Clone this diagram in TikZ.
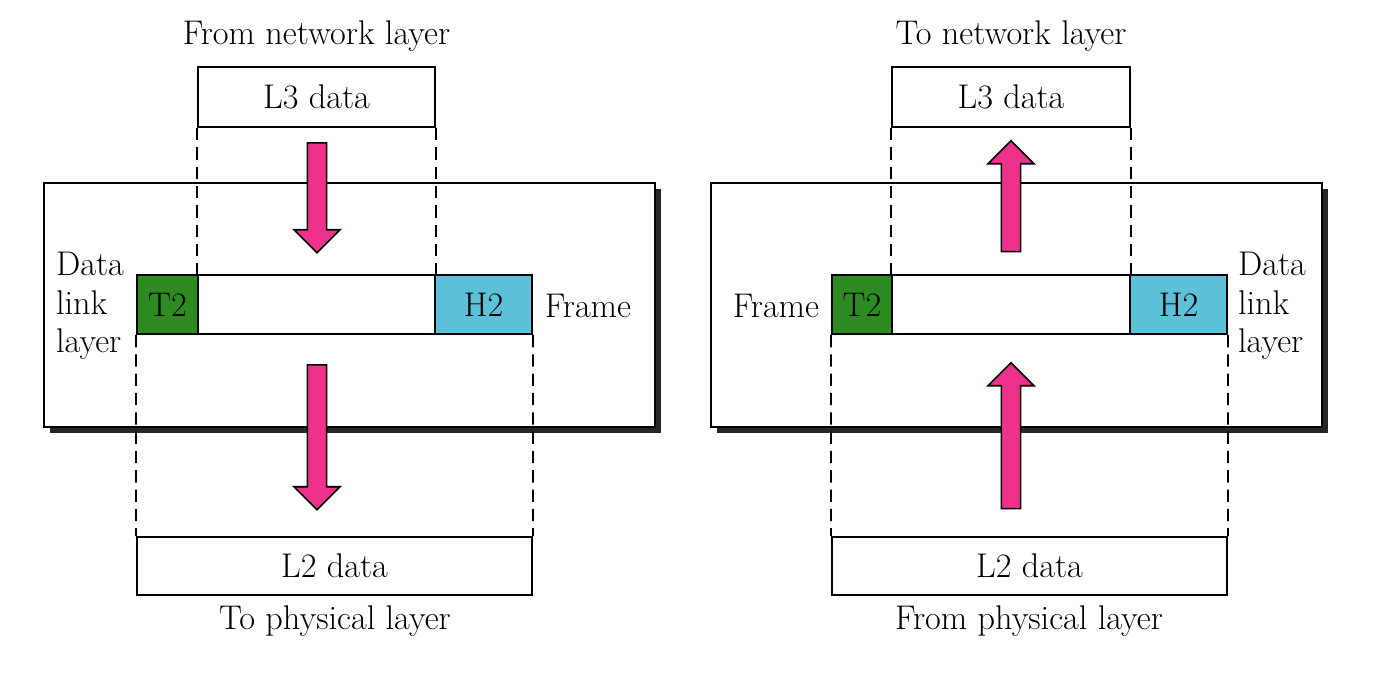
\documentclass[tikz,border=0pt]{standalone}
\usepackage{fontspec}
\usetikzlibrary{shapes.arrows,shadows}
\definecolor{arrowpink}{RGB}{238,50,140}
\definecolor{trailgreen}{RGB}{46,139,34}
\definecolor{headcyan}{RGB}{92,192,216}
\tikzset{
  box/.style={draw, line width=1.1pt, inner sep=0pt, minimum height=1.18cm},
  layerbox/.style={draw, line width=1.1pt, fill=white, minimum width=12.22cm, minimum height=4.88cm,
    drop shadow={shadow xshift=0.12cm, shadow yshift=-0.12cm, fill=black!85, opacity=1}},
  pinkarrow/.style={single arrow, draw, line width=0.9pt, fill=arrowpink, inner xsep=0pt, inner ysep=0.17cm,
    minimum width=0.92cm, single arrow head extend=0.26cm, single arrow tip angle=90},
  guide/.style={line width=1pt, dash pattern=on 7pt off 4pt},
  lbl/.style={inner sep=0pt, align=left}
}
\begin{document}
\begin{tikzpicture}[x=0.02cm, y=-0.02cm, font=\fontsize{19.5}{22}\selectfont]
\useasboundingbox (0,0) rectangle (1384,692);
% sending side
\node[layerbox] (dllL) at (349.5,305) {};
\node[box, minimum width=4.74cm, minimum height=1.2cm] (l3L) at (316.5,97) {L3 data};
\node[box, fill=trailgreen, minimum width=1.22cm] (t2L) at (167.5,304.5) {T2};
\node[box, minimum width=4.74cm] (midL) at (316.5,304.5) {};
\node[box, fill=headcyan, minimum width=1.94cm] (h2L) at (483.5,304.5) {H2};
\node[box, minimum width=7.9cm, minimum height=1.16cm] (l2L) at (334.5,566) {L2 data};
\draw[guide] (l3L.south west) -- (midL.north west);
\draw[guide] (l3L.south east) -- (midL.north east);
\draw[guide] (t2L.south west) -- (l2L.north west);
\draw[guide] (h2L.south east) -- (l2L.north east);
\node[pinkarrow, rotate=-90, minimum height=2.2cm] (downL1) at (317,193) {};
\node[pinkarrow, rotate=-90, minimum height=2.9cm] (downL2) at (317,432.5) {};
\node (fromnet) at (316.5,36) {From network layer};
\node (tophys) at (335,621) {To physical layer};
\node[lbl] (dlL) at (90,306) {Data\\link\\layer};
\node[lbl] (frameL) at (588,306) {Frame};
% receiving side
\node[layerbox] (dllR) at (1016.5,305) {};
\node[box, minimum width=4.76cm, minimum height=1.2cm] (l3R) at (1011,97) {L3 data};
\node[box, fill=trailgreen, minimum width=1.2cm] (t2R) at (862,304.5) {T2};
\node[box, minimum width=4.76cm] (midR) at (1011,304.5) {};
\node[box, fill=headcyan, minimum width=1.94cm] (h2R) at (1178.5,304.5) {H2};
\node[box, minimum width=7.9cm, minimum height=1.16cm] (l2R) at (1029.5,566) {L2 data};
\draw[guide] (l3R.south west) -- (midR.north west);
\draw[guide] (l3R.south east) -- (midR.north east);
\draw[guide] (t2R.south west) -- (l2R.north west);
\draw[guide] (h2R.south east) -- (l2R.north east);
\node[pinkarrow, rotate=90, minimum height=2.22cm] (upR1) at (1011,201) {};
\node[pinkarrow, rotate=90, minimum height=2.92cm] (upR2) at (1011,440.5) {};
\node (tonet) at (1011,36) {To network layer};
\node (fromphys) at (1029,621) {From physical layer};
\node[lbl] (dlR) at (1272,306) {Data\\link\\layer};
\node[lbl] (frameR) at (776,306) {Frame};
\end{tikzpicture}
\end{document}
